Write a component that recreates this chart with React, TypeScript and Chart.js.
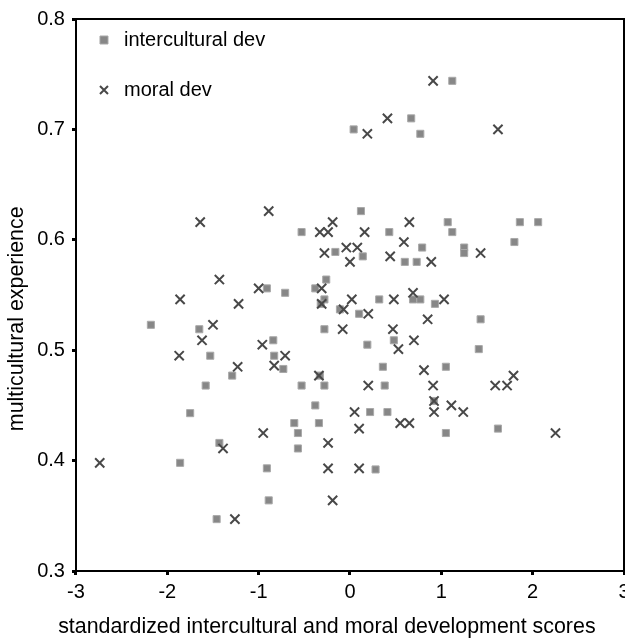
import React, { useEffect, useRef } from 'react';
import { Chart, registerables } from 'chart.js';

Chart.register(...registerables);

const seriesLabels = ['intercultural dev', 'moral dev'];
const xTitle = 'standardized intercultural and moral development scores';
const yTitle = 'multicultural experience';
const xTickLabels = ['-3', '-2', '-1', '0', '1', '2', '3'];
const yTickLabels = ['0.3', '0.4', '0.5', '0.6', '0.7', '0.8'];

const interculturalX = [
  0.04, 1.12, 0.67, 0.77, 0.12, -0.53, 0.43, 1.07, 1.12, 1.86,
  2.06, 1.80, 0.79, 1.25, 1.25, -0.16, 0.14, 0.60, 0.73, -0.26,
  -0.38, -0.28, -0.32, -0.11, 0.10, 0.32, 0.69, 0.77, 0.93, 1.43,
  -0.91, -0.71, -2.18, -1.65, -1.53, -1.29, -1.58, -1.75, -1.43, -1.86,
  -0.91, -0.89, -1.46, -0.84, -0.83, -0.73, -0.33, -0.53, -0.28, -0.38,
  -0.61, -0.34, -0.57, -0.57, -0.28, 0.19, 0.48, 1.41, 0.36, 1.05,
  0.38, 0.92, 0.22, 0.41, 1.05, 1.62, 0.28,
];
const interculturalY = [
  0.700, 0.744, 0.710, 0.696, 0.626, 0.607, 0.607, 0.616, 0.607, 0.616,
  0.616, 0.598, 0.593, 0.593, 0.588, 0.589, 0.585, 0.580, 0.580, 0.564,
  0.556, 0.546, 0.542, 0.537, 0.533, 0.546, 0.546, 0.546, 0.542, 0.528,
  0.556, 0.552, 0.523, 0.519, 0.495, 0.477, 0.468, 0.443, 0.416, 0.398,
  0.393, 0.364, 0.347, 0.509, 0.495, 0.483, 0.477, 0.468, 0.468, 0.450,
  0.434, 0.434, 0.425, 0.411, 0.519, 0.505, 0.509, 0.501, 0.485, 0.485,
  0.468, 0.454, 0.444, 0.444, 0.425, 0.429, 0.392,
];

const moralX = [
  0.91, 0.41, 0.19, 1.62, -0.19, -0.33, -0.24, 0.16, 0.65, 0.59,
  -0.28, -0.04, 0.08, 0.00, 0.44, 0.89, 1.43, -0.31, -0.31, 0.02,
  -0.07, 0.20, 0.48, 0.69, 1.03, 0.85, -1.64, -0.89, -1.43, -1.86,
  -1.22, -1.00, -1.50, -1.62, -1.87, -1.23, -2.74, -0.95, -1.39, -1.26,
  -0.96, -0.71, -0.83, -0.34, -0.08, 0.47, 0.70, 0.53, 0.81, 0.20,
  0.91, 1.59, 1.72, 1.79, 0.92, 0.92, 1.11, 1.24, 0.05, 0.55,
  0.65, 0.10, 2.25, -0.24, -0.24, 0.10, -0.19,
];
const moralY = [
  0.744, 0.710, 0.696, 0.700, 0.616, 0.607, 0.607, 0.607, 0.616, 0.598,
  0.588, 0.593, 0.593, 0.580, 0.585, 0.580, 0.588, 0.556, 0.542, 0.546,
  0.537, 0.533, 0.546, 0.552, 0.546, 0.528, 0.616, 0.626, 0.564, 0.546,
  0.542, 0.556, 0.523, 0.509, 0.495, 0.485, 0.398, 0.425, 0.411, 0.347,
  0.505, 0.495, 0.486, 0.477, 0.519, 0.519, 0.509, 0.501, 0.482, 0.468,
  0.468, 0.468, 0.468, 0.477, 0.454, 0.444, 0.450, 0.444, 0.444, 0.434,
  0.434, 0.429, 0.425, 0.416, 0.393, 0.393, 0.364,
];

const FONT = 'Arial, "Liberation Sans", Helvetica, sans-serif';
// spaces nudge the centred titles to where the original places them
const yTitleShift = ' '.repeat(8);
const xTitleShift = ' '.repeat(5);

export default function App() {
  const ref = useRef<HTMLCanvasElement | null>(null);

  useEffect(() => {
    const canvas = ref.current;
    if (!canvas) return;
    const chart = new Chart(canvas, {
      type: 'scatter',
      data: {
        datasets: [
          {
            label: [seriesLabels[0]] as any,
            data: interculturalX.map((x, i) => ({ x, y: interculturalY[i] })),
            pointStyle: 'rect',
            pointRadius: 5,
            backgroundColor: '#878787',
            borderColor: '#a9a9a9',
            borderWidth: 1,
            order: 2,
          },
          {
            label: [seriesLabels[1]] as any,
            data: moralX.map((x, i) => ({ x, y: moralY[i] })),
            pointStyle: 'crossRot',
            pointRadius: 6.5,
            backgroundColor: '#484848',
            borderColor: '#484848',
            borderWidth: 2,
            order: 1,
          },
        ],
      },
      options: {
        animation: false,
        responsive: false,
        events: [],
        layout: { padding: { left: 0, top: 13, right: 16, bottom: 0 } },
        plugins: {
          title: {
            display: true,
            position: 'bottom',
            align: 'center',
            text: xTitleShift + xTitle,
            color: '#000',
            font: { family: FONT, size: 21.4, weight: 'normal' },
            padding: { top: 5.1, bottom: 1.2 },
          },
          legend: {
            position: 'chartArea',
            align: 'start',
            title: {
              display: true,
              text: ' ',
              font: { family: FONT, size: 1, lineHeight: 1 },
              padding: { top: 11, bottom: 0 },
            },
            labels: {
              usePointStyle: true,
              boxWidth: 20,
              boxHeight: 8,
              padding: 18,
              color: '#000',
              font: { family: FONT, size: 20, lineHeight: 1.6 },
              sort: (a: any, b: any) => a.datasetIndex - b.datasetIndex,
            },
          },
          tooltip: { enabled: false },
        },
        scales: {
          x: {
            type: 'linear',
            position: 'bottom',
            min: -3,
            max: 3,
            ticks: {
              stepSize: 1,
              color: '#000',
              padding: 5,
              font: { family: FONT, size: 20 },
              callback: (_v: any, i: number) => xTickLabels[i],
            },
            grid: { drawOnChartArea: false, drawTicks: true, tickLength: 4, tickWidth: 3, tickColor: '#000' },
            border: { display: true, color: '#000', width: 2 },
            title: { display: false },
          },
          y: {
            type: 'linear',
            position: 'left',
            min: 0.3,
            max: 0.8,
            ticks: {
              stepSize: 0.1,
              color: '#000',
              padding: 7,
              font: { family: FONT, size: 20 },
              callback: (_v: any, i: number) => yTickLabels[i],
            },
            grid: { drawOnChartArea: false, drawTicks: true, tickLength: 4, tickWidth: 3, tickColor: '#000' },
            border: { display: true, color: '#000', width: 2 },
            title: {
              display: true,
              text: yTitle + yTitleShift,
              color: '#000',
              font: { family: FONT, size: 21.4 },
              padding: { top: 4.5, bottom: 0 },
            },
          },
          xTop: {
            type: 'linear',
            position: 'top',
            min: -3,
            max: 3,
            ticks: { display: false },
            grid: { drawOnChartArea: false, drawTicks: false },
            border: { display: true, color: '#000', width: 2 },
          },
          yRight: {
            type: 'linear',
            position: 'right',
            min: 0.3,
            max: 0.8,
            ticks: { display: false },
            grid: { drawOnChartArea: false, drawTicks: false },
            border: { display: true, color: '#000', width: 2 },
          },
        },
      } as any,
    });
    return () => chart.destroy();
  }, []);

  return (
    <div style={{ position: 'fixed', left: 0, top: 0, width: 625, height: 641, overflow: 'hidden', background: '#fff' }}>
      <canvas ref={ref} width={640} height={641} style={{ position: 'absolute', left: 0, top: 0, width: 640, height: 641 }} />
    </div>
  );
}
